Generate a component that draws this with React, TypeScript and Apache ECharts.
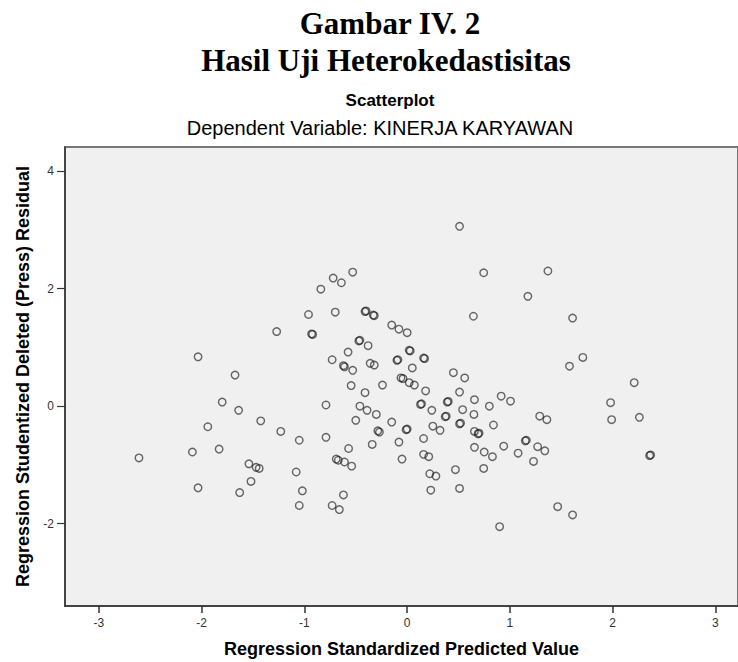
import React, { useEffect, useRef } from "react";
import * as echarts from "echarts";

const titleLines = ["Gambar IV. 2", "Hasil Uji Heterokedastisitas"];
const chartTitle = "Scatterplot";
const chartSubtitle = "Dependent Variable: KINERJA KARYAWAN";
const xAxisName = "Regression Standardized Predicted Value";
const yAxisName = "Regression Studentized Deleted (Press) Residual";

const xTicks = [-3, -2, -1, 0, 1, 2, 3];
const yTicks = [-2, 0, 2, 4];

const predictedValues = [
  -2.61, -2.09, -2.035, -2.035, -1.94, -1.83, -1.8, -1.675, -1.64, -1.63,
  -1.54, -1.52, -1.47, -1.44, -1.425, -1.27, -1.23, -1.08, -1.05, -1.02,
  -1.05, -0.96, -0.93, -0.92, -0.84, -0.79, -0.79, -0.73, -0.73, -0.72,
  -0.7, -0.69, -0.67, -0.66, -0.64, -0.62, -0.62, -0.61, -0.61, -0.575,
  -0.57, -0.545, -0.54, -0.53, -0.53, -0.5, -0.47, -0.46, -0.46, -0.41,
  -0.41, -0.4, -0.39, -0.38, -0.36, -0.34, -0.33, -0.32, -0.32, -0.3,
  -0.285, -0.27, -0.24, -0.15, -0.15, -0.1, -0.09, -0.08, -0.08, -0.06,
  -0.04, -0.05, -0.01, 0.0, 0.0, 0.02, 0.03, 0.02, 0.05, 0.07,
  0.13, 0.14, 0.16, 0.17, 0.16, 0.16, 0.18, 0.21, 0.22, 0.23,
  0.24, 0.25, 0.28, 0.32, 0.37, 0.38, 0.39, 0.4, 0.45, 0.47,
  0.51, 0.51, 0.51, 0.52, 0.51, 0.54, 0.56, 0.645, 0.65, 0.655,
  0.655, 0.69, 0.7, 0.655, 0.745, 0.745, 0.75, 0.8, 0.83, 0.84,
  0.9, 0.915, 0.94, 1.006, 1.08, 1.15, 1.16, 1.175, 1.23, 1.27,
  1.29, 1.34, 1.36, 1.37, 1.465, 1.58, 1.61, 1.61, 1.71, 1.98,
  1.99, 2.21, 2.26, 2.36, 2.37,
];

const residualValues = [
  -0.88, -0.78, 0.84, -1.39, -0.35, -0.73, 0.07, 0.53, -0.07, -1.47,
  -0.98, -1.28, -1.04, -1.06, -0.25, 1.27, -0.43, -1.12, -0.58, -1.44,
  -1.69, 1.56, 1.23, 1.22, 1.99, 0.02, -0.53, 0.79, -1.69, 2.18,
  1.6, -0.9, -0.92, -1.76, 2.1, -1.51, 0.69, 0.67, -0.95, 0.92,
  -0.72, 0.35, -1.02, 2.28, 0.61, -0.24, 1.11, 1.12, 0.0, 0.23,
  1.61, 1.62, -0.07, 1.03, 0.73, -0.65, 1.55, 1.54, 0.7, -0.14,
  -0.42, -0.44, 0.36, 1.38, -0.27, 0.78, 0.79, 1.31, -0.61, 0.48,
  0.47, -0.9, -0.4, -0.39, 1.25, 0.95, 0.94, 0.4, 0.65, 0.36,
  0.03, 0.04, 0.82, 0.81, -0.55, -0.82, 0.26, -0.86, -1.15, -1.43,
  -0.07, -0.34, -1.19, -0.41, -0.18, -0.17, 0.07, 0.08, 0.57, -1.08,
  3.06, 0.24, -0.3, -0.29, -1.4, -0.06, 0.48, 1.53, -0.14, 0.11,
  -0.43, -0.47, -0.46, -0.7, 2.27, -1.06, -0.78, 0.0, -0.86, -0.32,
  -2.05, 0.17, -0.68, 0.085, -0.8, -0.59, -0.58, 1.87, -0.94, -0.69,
  -0.17, -0.76, -0.23, 2.3, -1.71, 0.68, 1.5, -1.85, 0.83, 0.06,
  -0.23, 0.4, -0.19, -0.84, -0.83,
];

export default function App() {
  const ref = useRef<HTMLDivElement>(null);

  useEffect(() => {
    document.body.style.margin = "0";
    if (!ref.current) return;
    const chart = echarts.init(ref.current, null, { renderer: "svg" });
    const data = predictedValues.map((x, i) => [x, residualValues[i]]);
    const sans = "'Liberation Sans', Arial, sans-serif";
    const serif = "'Liberation Serif', 'Times New Roman', serif";

    const mkText = (text: string, x: number, y: number, font: string) => ({
      type: "text",
      x,
      y,
      silent: true,
      style: {
        text,
        font,
        fill: "#000",
        align: "center",
        verticalAlign: "middle",
        textAlign: "center",
        textVerticalAlign: "middle",
      },
    });

    chart.setOption({
      animation: false,
      backgroundColor: "#ffffff",
      graphic: [
        mkText(titleLines[0], 390, 23, `bold 31px ${serif}`),
        mkText(titleLines[1], 386, 60, `bold 31px ${serif}`),
        mkText(chartTitle, 390, 100, `bold 17px ${sans}`),
        mkText(chartSubtitle, 380, 128, `20px ${sans}`),
      ],
      grid: {
        left: 65,
        top: 147,
        right: 0,
        bottom: 56,
        outerBoundsMode: "none",
        containLabel: false,
        show: true,
        backgroundColor: "#f0f0f0",
        borderColor: "#777",
        borderWidth: 2,
      },
      xAxis: {
        type: "value",
        min: -3.33,
        max: 3.22,
        name: xAxisName,
        nameLocation: "middle",
        nameGap: 34,
        nameTextStyle: { fontFamily: sans, fontWeight: "bold", fontSize: 18, color: "#000" },
        axisLine: { show: true, onZero: false, lineStyle: { color: "#333", width: 1.5 } },
        axisTick: { show: true, length: 7, customValues: xTicks, lineStyle: { color: "#333", width: 1.5 } },
        axisLabel: { customValues: xTicks, margin: 11, fontFamily: sans, fontSize: 12, color: "#333" },
        splitLine: { show: false },
      },
      yAxis: {
        type: "value",
        min: -3.4,
        max: 4.41,
        name: yAxisName,
        nameLocation: "middle",
        nameGap: 32,
        nameRotate: 90,
        nameTextStyle: { fontFamily: sans, fontWeight: "bold", fontSize: 18, color: "#000" },
        axisLine: { show: true, onZero: false, lineStyle: { color: "#333", width: 1.5 } },
        axisTick: { show: true, length: 8, customValues: yTicks, lineStyle: { color: "#333", width: 1.2 } },
        axisLabel: { customValues: yTicks, margin: 11, fontFamily: sans, fontSize: 12, color: "#333" },
        splitLine: { show: false },
      },
      series: [
        {
          type: "scatter",
          data,
          symbol: "circle",
          symbolSize: 7.5,
          itemStyle: {
            color: "rgba(0,0,0,0)",
            borderColor: "rgba(20,20,20,0.8)",
            borderWidth: 1.4,
          },
          emphasis: { disabled: true },
        },
      ],
    });
    return () => chart.dispose();
  }, []);

  return <div ref={ref} style={{ width: 738, height: 662 }} />;
}
